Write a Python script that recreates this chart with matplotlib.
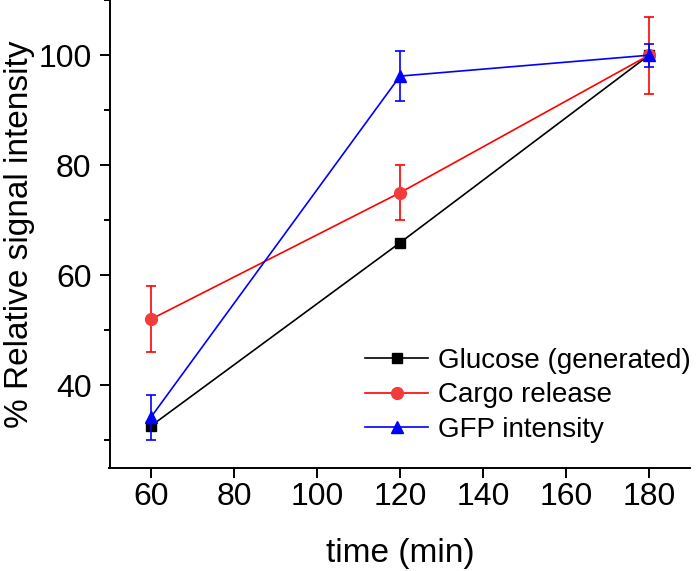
import matplotlib
matplotlib.use("Agg")
import matplotlib.pyplot as plt
from matplotlib.ticker import MultipleLocator

plt.rcParams['font.family'] = ['Liberation Sans', 'DejaVu Sans']

time = [60, 120, 180]
glucose = [32.6, 65.9, 100.0]
cargo = [52.0, 75.0, 100.0]
cargo_err = [6.0, 5.0, 7.0]
gfp = [34.2, 96.2, 100.0]
gfp_err = [4.1, 4.6, 2.1]

W, H = 698, 571
fig = plt.figure(figsize=(W / 100, H / 100), dpi=100)
ax = fig.add_axes([109.5 / W, 1 - 467.7 / H, 581 / W, 467.5 / H])

l1, = ax.plot(time, glucose, color='black', lw=1.2, marker='s', ms=7.5,
              mfc='black', mec='black', label='Glucose (generated)', zorder=3)
c2 = ax.errorbar(time, cargo, yerr=cargo_err, color='#ff0000', lw=1.2, marker='o',
                 ms=8.5, mfc='#f23c3c', mec='#f23c3c', capsize=3.5, capthick=1.2,
                 elinewidth=1.2, label='Cargo release', zorder=4)
c3 = ax.errorbar(time, gfp, yerr=gfp_err, color='#0000ff', lw=1.2, marker='^',
                 ms=9, mfc='#0000ff', mec='#0000ff', capsize=3.5, capthick=1.2,
                 elinewidth=1.2, label='GFP intensity', zorder=5)

ax.set_xlim(50, 190)
ax.set_ylim(25, 110)
ax.set_xticks([60, 80, 100, 120, 140, 160, 180])
ax.set_yticks([40, 60, 80, 100])
ax.yaxis.set_minor_locator(MultipleLocator(10))

for s in ['top', 'right']:
    ax.spines[s].set_visible(False)
for s in ['left', 'bottom']:
    ax.spines[s].set_linewidth(1.4)

ax.tick_params(axis='both', which='major', direction='out', length=7, width=1.4,
               labelsize=23)
ax.tick_params(axis='x', which='major', pad=3)
ax.tick_params(axis='y', which='major', pad=6)
ax.tick_params(axis='y', which='minor', direction='out', length=4, width=1.4)

ax.set_xlabel('time (min)', fontsize=24, labelpad=19)
ax.set_ylabel('% Relative signal intensity', fontsize=24, labelpad=2)

handles = [l1, c2[0], c3[0]]
labels = ['Glucose (generated)', 'Cargo release', 'GFP intensity']
leg = fig.legend(handles, labels, loc='upper left',
                 bbox_to_anchor=(365 / W, 1 - 348 / H),
                 frameon=False, fontsize=20, handlelength=2.27, handletextpad=0.36,
                 labelspacing=0.30, borderpad=0.0, borderaxespad=0.0)

fig.savefig('out.png', dpi=100)
